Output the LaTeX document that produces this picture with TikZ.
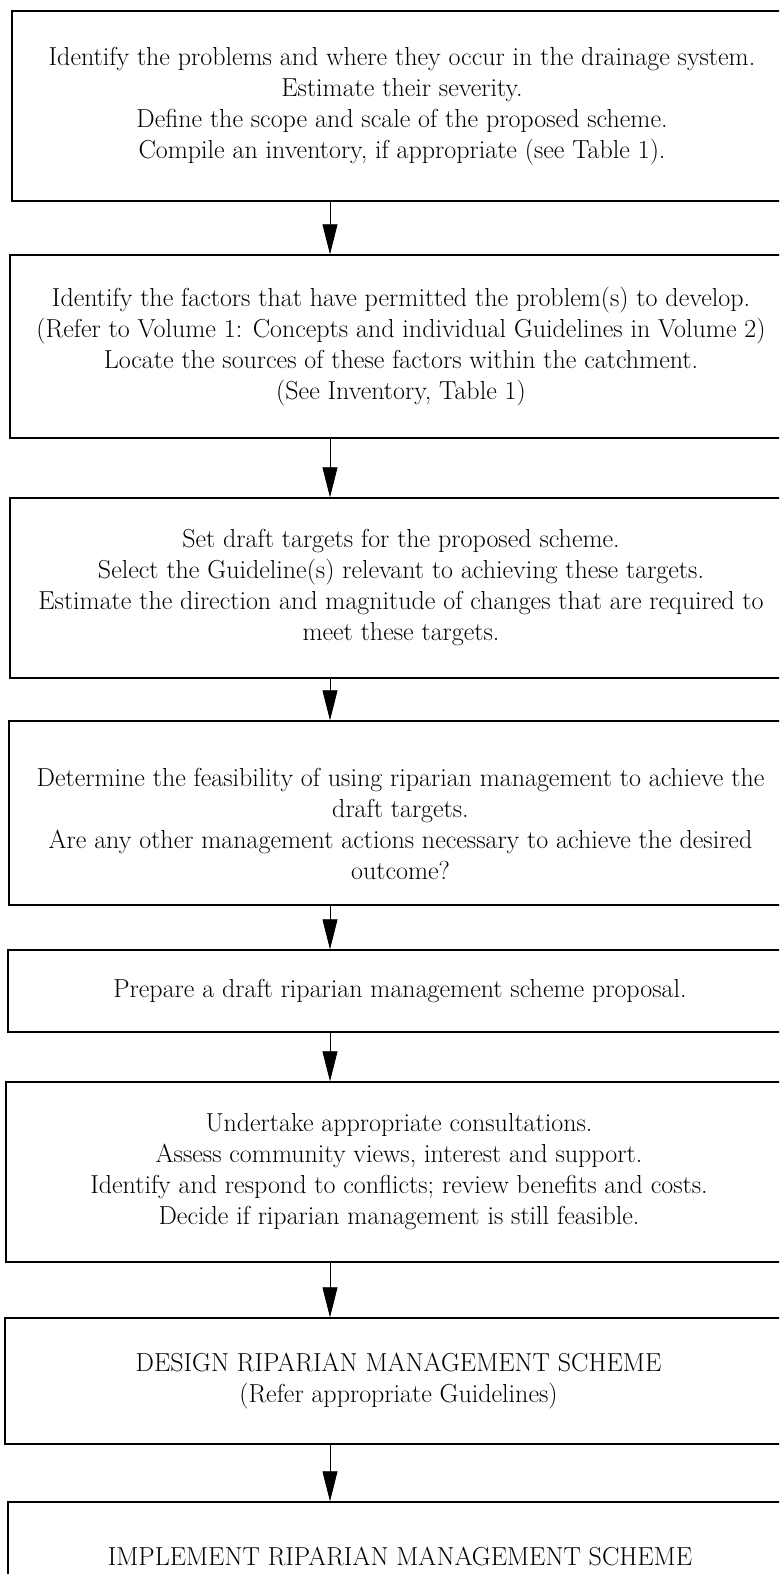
\documentclass[tikz,border=0pt]{standalone}
\usetikzlibrary{arrows.meta}

\tikzset{
  stepbox/.style={draw, line width=1.4pt, rectangle, align=center, inner sep=0pt,
    font=\fontsize{26}{31}\selectfont},
  flowarrow/.style={line width=0.8pt, -{Triangle[length=30pt,width=15pt]}},
}

\begin{document}
\begin{tikzpicture}[x=1pt,y=-1pt]

    \useasboundingbox (0,0) rectangle (779,1574);
    \clip (0,0) rectangle (779,1574);

    \coordinate (ax) at (330,0);

    \node[stepbox, minimum width=780pt, minimum height=190pt] (b1) at (402,106)
    {Identify the problems and where they occur in the drainage system.\\
     Estimate their severity.\\
     Define the scope and scale of the proposed scheme.\\
     Compile an inventory, if appropriate (see Table 1).};

    \node[stepbox, minimum width=782pt, minimum height=183pt] (b2) at (401,346.5)
    {Identify the factors that have permitted the problem(s) to develop.\\
     (Refer to Volume 1: Concepts and individual Guidelines in Volume 2)\\
     Locate the sources of these factors within the catchment.\\
     (See Inventory, Table 1)};

    \node[stepbox, minimum width=782pt, minimum height=180pt] (b3) at (401,588)
    {Set draft targets for the proposed scheme.\\
     Select the Guideline(s) relevant to achieving these targets.\\
     Estimate the direction and magnitude of changes that are required to\\
     meet these targets.};

    \node[stepbox, minimum width=783pt, minimum height=184pt] (b4) at (400.5,813)
    {\rule{0pt}{40pt}Determine the feasibility of using riparian management to achieve the\\
     draft targets.\\
     Are any other management actions necessary to achieve the desired\\
     outcome?};

    \node[stepbox, minimum width=784pt, minimum height=82pt] (b5) at (400,991)
    {Prepare a draft riparian management scheme proposal.};

    \node[stepbox, minimum width=786pt, minimum height=180pt] (b6) at (399,1172)
    {Undertake appropriate consultations.\\
     Assess community views, interest and support.\\
     Identify and respond to conflicts; review benefits and costs.\\
     Decide if riparian management is still feasible.};

    \node[stepbox, minimum width=787pt, minimum height=126pt] (b7) at (398.5,1381)
    {DESIGN RIPARIAN MANAGEMENT SCHEME\\
     (Refer appropriate Guidelines)};

    \node[stepbox, minimum width=784pt, minimum height=108pt] (b8) at (400,1556)
    {IMPLEMENT RIPARIAN MANAGEMENT SCHEME};

    \draw[flowarrow] (b1.south -| ax) -- (b2.north -| ax);
    \draw[flowarrow] (b2.south -| ax) -- (b3.north -| ax);
    \draw[flowarrow] (b3.south -| ax) -- (b4.north -| ax);
    \draw[flowarrow] (b4.south -| ax) -- (b5.north -| ax);
    \draw[flowarrow] (b5.south -| ax) -- (b6.north -| ax);
    \draw[flowarrow] (b6.south -| ax) -- (b7.north -| ax);
    \draw[flowarrow] (b7.south -| ax) -- (b8.north -| ax);

\end{tikzpicture}
\end{document}
